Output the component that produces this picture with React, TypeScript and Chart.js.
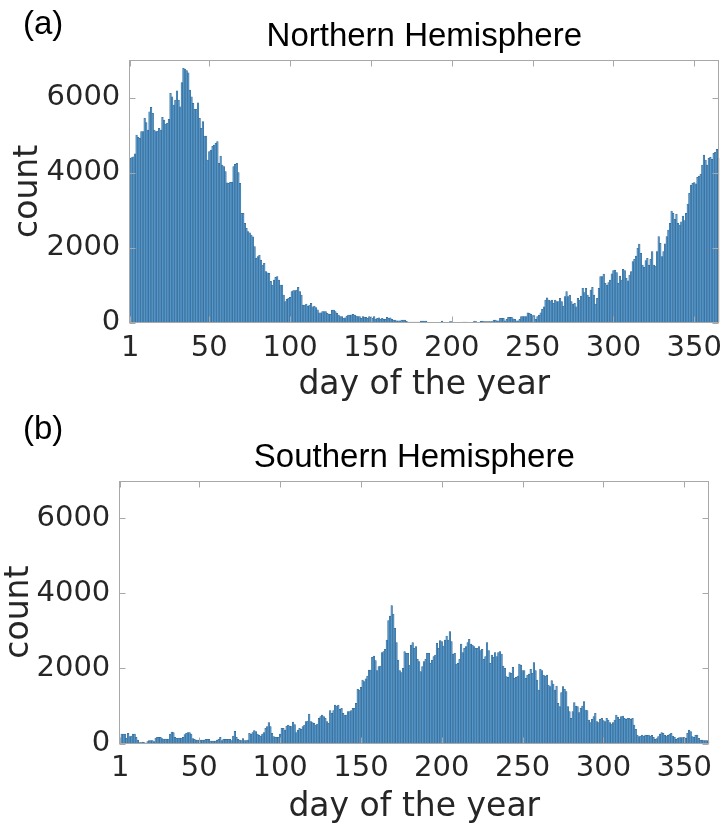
import React, { useEffect, useRef } from "react";
import { Chart, registerables } from "chart.js";

Chart.register(...registerables);

// ---------- data ----------
const DAYS: number[] = Array.from({ length: 365 }, (_, i) => i + 1);
const X_TICKS = [1, 50, 100, 150, 200, 250, 300, 350];
const Y_TICKS = [0, 2000, 4000, 6000];

const NORTH = [
  4380, 4400, 4420, 4500, 5000, 4940, 4910, 5090, 5090, 5445,
  5330, 5130, 5620, 5740, 5580, 5135, 5090, 5100, 5180, 5135,
  5470, 5400, 5290, 5310, 5420, 6110, 6020, 5800, 5930, 6180,
  5930, 5755, 6400, 6777, 6760, 6715, 6660, 6200, 6020, 5845,
  5685, 5685, 5860, 5445, 5180, 5356, 4975, 4975, 4335, 4557,
  4600, 4700, 4735, 4780, 4825, 4246, 4440, 4200, 4157, 4024,
  3730, 3713, 3740, 3740, 4157, 4220, 4246, 4000, 3713, 2914,
  2914, 2647, 2514, 2425, 2398, 2336, 2290, 2025, 1714, 1760,
  1800, 1670, 1537, 1580, 1360, 1332, 1315, 1100, 1004, 1137,
  1208, 1226, 1137, 1004, 1004, 737, 560, 622, 648, 675,
  826, 853, 853, 870, 940, 826, 737, 470, 470, 497,
  444, 470, 515, 426, 444, 400, 340, 266, 266, 293,
  293, 293, 249, 231, 222, 337, 337, 293, 249, 204,
  160, 160, 115, 133, 178, 204, 204, 213, 222, 204,
  178, 160, 160, 115, 160, 150, 142, 115, 160, 142,
  115, 160, 98, 115, 133, 89, 115, 89, 89, 142,
  115, 133, 89, 71, 71, 53, 53, 53, 71, 71,
  71, 36, 18, 18, 18, 18, 18, 18, 18, 18,
  44, 44, 44, 44, 18, 10, 10, 10, 10, 10,
  10, 10, 10, 44, 10, 10, 10, 10, 27, 27,
  5, 5, 0, 5, 0, 10, 18, 18, 18, 10,
  10, 10, 10, 44, 27, 10, 10, 36, 44, 27,
  27, 27, 27, 27, 27, 71, 71, 53, 53, 115,
  115, 115, 53, 89, 142, 142, 142, 106, 89, 53,
  53, 89, 160, 160, 160, 160, 266, 249, 222, 187,
  187, 89, 160, 204, 266, 355, 426, 604, 666, 604,
  586, 604, 515, 604, 560, 560, 648, 560, 444, 693,
  826, 693, 737, 560, 497, 515, 426, 648, 604, 710,
  915, 800, 915, 737, 675, 870, 940, 737, 497, 648,
  915, 1226, 1226, 1297, 1048, 1004, 1066, 1137, 1300, 1386,
  1404, 1333, 1048, 1244, 1137, 1421, 1386, 1181, 1119, 1270,
  1359, 1626, 1688, 1777, 1981, 2096, 1848, 1537, 1475, 1652,
  1714, 1537, 1688, 1892, 1537, 1510, 1892, 2292, 2114, 1759,
  1892, 2100, 2292, 2470, 2647, 2976, 2914, 2754, 2896, 2647,
  2603, 2690, 2843, 2718, 2914, 3162, 3447, 3669, 3713, 3731,
  3700, 3873, 3908, 3962, 4202, 4468, 4335, 4202, 4379, 4406,
  4350, 4513, 4539, 4619, 4379,
];

const SOUTH = [
  93, 253, 253, 253, 138, 271, 182, 200, 253, 253,
  164, 93, 22, 22, 40, 22, 4, 49, 75, 75,
  75, 49, 147, 164, 164, 164, 129, 120, 120, 120,
  120, 253, 306, 289, 164, 138, 147, 147, 147, 164,
  235, 271, 289, 289, 253, 129, 111, 93, 93, 93,
  93, 93, 93, 111, 111, 111, 67, 67, 67, 67,
  93, 111, 164, 75, 111, 111, 111, 111, 111, 75,
  200, 324, 164, 111, 93, 75, 129, 75, 75, 93,
  271, 253, 289, 342, 320, 253, 220, 200, 253, 289,
  404, 448, 555, 448, 271, 182, 164, 164, 164, 253,
  404, 404, 360, 466, 493, 466, 448, 573, 502, 289,
  360, 404, 377, 448, 493, 582, 600, 786, 582, 560,
  537, 493, 520, 670, 715, 759, 715, 670, 582, 537,
  875, 804, 875, 1026, 999, 1026, 910, 937, 804, 759,
  759, 848, 848, 875, 937, 937, 1070, 1443, 1425, 1496,
  1692, 1647, 1720, 1798, 1958, 1958, 2295, 2331, 2207, 1940,
  2047, 2065, 2420, 2446, 2509, 2757, 3272, 3396, 3672, 3450,
  3068, 2686, 2224, 1940, 1887, 2002, 2446, 2402, 2402, 2091,
  2624, 2686, 2535, 2580, 2242, 2180, 1914, 2050, 2180, 2242,
  2402, 2402, 2136, 2224, 2313, 2358, 2668, 2535, 2739, 2713,
  2597, 2757, 2864, 2757, 2979, 2713, 2384, 2402, 2118, 2136,
  2242, 2651, 2420, 2535, 2580, 2686, 2775, 2651, 2624, 2580,
  2535, 2535, 2580, 2473, 2509, 2242, 2313, 2686, 2473, 2136,
  2358, 2295, 2420, 2313, 2420, 2446, 2384, 2065, 2002, 1780,
  1763, 1887, 1870, 2029, 1736, 1763, 1798, 2118, 2091, 1940,
  1940, 1736, 1825, 1850, 1976, 1870, 2153, 1940, 1692, 1425,
  1976, 1940, 1825, 1798, 1825, 1558, 1514, 1674, 1585, 1425,
  1532, 1070, 981, 1354, 1514, 1443, 1381, 981, 848, 670,
  848, 1088, 1000, 981, 821, 937, 999, 1114, 893, 875,
  626, 555, 644, 715, 804, 582, 555, 644, 670, 608,
  582, 670, 626, 555, 520, 555, 626, 759, 697, 644,
  715, 733, 670, 644, 670, 670, 644, 670, 493, 377,
  226, 182, 200, 226, 200, 226, 217, 226, 200, 217,
  164, 111, 129, 182, 253, 289, 271, 217, 200, 217,
  253, 271, 200, 164, 111, 138, 155, 155, 155, 164,
  138, 271, 360, 315, 182, 164, 217, 226, 138, 93,
  93, 75, 75, 75, 49,
];

// ---------- layout ----------
type PanelCfg = {
  values: number[];
  title: string;
  tag: string;
  offset: number;
  canvasH: number;
  left: number;
  right: number;
  top: number;
  bottom: number;
  titleY: number;
  tagY: number;
  xTitlePad: number;
  yTitlePad: number;
};

const W = 726;
const TICK_COLOR = "#262626";
const BOX_COLOR = "#a8a8a8";
const TICK_FONT = 29;
const LABEL_FONT = 33;
const TITLE_FONT = 33;

const panelPlugin = {
  id: "panel",
  afterDraw(chart: any, _args: any, opts: any) {
    const { ctx, chartArea: a, scales } = chart;
    ctx.save();
    ctx.strokeStyle = BOX_COLOR;
    ctx.lineWidth = 1;
    const L = Math.round(a.left) + 0.5;
    const R = Math.round(a.right) - 0.5;
    const T = Math.round(a.top) + 0.5;
    const B = Math.round(a.bottom) - 0.5;
    ctx.strokeRect(L, T, R - L, B - T);
    const tl = 6;
    ctx.beginPath();
    for (const v of X_TICKS) {
      const x = Math.round(scales.x.getPixelForValue(v)) + 0.5;
      ctx.moveTo(x, B);
      ctx.lineTo(x, B - tl);
      ctx.moveTo(x, T);
      ctx.lineTo(x, T + tl);
    }
    for (const v of Y_TICKS) {
      const y = Math.round(scales.y.getPixelForValue(v)) + 0.5;
      ctx.moveTo(L, y);
      ctx.lineTo(L + tl, y);
      ctx.moveTo(R, y);
      ctx.lineTo(R - tl, y);
    }
    ctx.stroke();

    ctx.fillStyle = "#000";
    ctx.textBaseline = "alphabetic";
    ctx.textAlign = "center";
    ctx.font = `${TITLE_FONT}px "Liberation Sans"`;
    ctx.fillText(opts.title, (a.left + a.right) / 2, opts.titleY);
    ctx.textAlign = "left";
    ctx.font = `${TITLE_FONT}px "Liberation Sans"`;
    ctx.fillText(opts.tag, 23, opts.tagY);
    ctx.restore();
  },
};

function makeConfig(cfg: PanelCfg): any {
  return {
    type: "bar",
    data: {
      datasets: [
        {
          data: cfg.values.map((v, i) => ({ x: DAYS[i], y: v })),
          backgroundColor: "#5597ca",
          borderColor: "#2e5f88",
          borderWidth: 0.5,
          barPercentage: 1,
          categoryPercentage: 1,
        },
      ],
    },
    options: {
      responsive: false,
      animation: false,
      events: [],
      layout: { padding: { left: 0, top: cfg.top, right: W - cfg.right, bottom: 0 } },
      plugins: {
        legend: { display: false },
        tooltip: { enabled: false },
        title: { display: false },
        panel: { title: cfg.title, tag: cfg.tag, titleY: cfg.titleY, tagY: cfg.tagY },
      },
      scales: {
        x: {
          type: "linear",
          min: 0.5,
          max: 365.5,
          offset: false,
          grid: { display: false, drawTicks: false },
          border: { display: false },
          afterBuildTicks: (s: any) => {
            s.ticks = X_TICKS.map((v) => ({ value: v }));
          },
          afterFit: (s: any) => {
            s.height = cfg.canvasH - cfg.bottom;
            s.paddingLeft = 0;
            s.paddingRight = 0;
          },
          ticks: {
            autoSkip: false,
            maxRotation: 0,
            padding: 8,
            color: TICK_COLOR,
            font: { family: "DejaVu Sans", size: TICK_FONT },
            callback: (v: any) => String(v),
          },
          title: {
            display: true,
            text: "day of the year",
            color: TICK_COLOR,
            font: { family: "DejaVu Sans", size: LABEL_FONT, lineHeight: 1 },
            padding: { top: 0, bottom: cfg.xTitlePad },
          },
        },
        y: {
          min: 0,
          max: 7000,
          grid: { display: false, drawTicks: false },
          border: { display: false },
          afterBuildTicks: (s: any) => {
            s.ticks = Y_TICKS.map((v) => ({ value: v }));
          },
          afterFit: (s: any) => {
            s.width = cfg.left;
            s.paddingTop = 0;
            s.paddingBottom = 0;
          },
          ticks: {
            padding: 9,
            color: TICK_COLOR,
            font: { family: "DejaVu Sans", size: TICK_FONT },
            callback: (v: any) => String(v),
          },
          title: {
            display: true,
            text: "count",
            color: TICK_COLOR,
            font: { family: "DejaVu Sans", size: LABEL_FONT, lineHeight: 1 },
            padding: { top: cfg.yTitlePad, bottom: 0 },
          },
        },
      },
    },
    plugins: [panelPlugin],
  };
}

const PANELS: PanelCfg[] = [
  {
    values: NORTH,
    title: "Northern Hemisphere",
    tag: "(a)",
    offset: 0,
    canvasH: 412,
    left: 129.3,
    right: 719.3,
    top: 60,
    bottom: 322.7,
    titleY: 46,
    tagY: 34,
    xTitlePad: 10,
    yTitlePad: 12,
  },
  {
    values: SOUTH,
    title: "Southern Hemisphere",
    tag: "(b)",
    offset: 412,
    canvasH: 413,
    left: 119.3,
    right: 709.3,
    top: 68.7,
    bottom: 331.5,
    titleY: 54.5,
    tagY: 27,
    xTitlePad: 1.5,
    yTitlePad: 3,
  },
];

function Panel({ cfg }: { cfg: PanelCfg }) {
  const ref = useRef<HTMLCanvasElement>(null);
  useEffect(() => {
    if (!ref.current) return;
    const chart = new Chart(ref.current, makeConfig(cfg));
    return () => chart.destroy();
  }, [cfg]);
  return (
    <canvas
      ref={ref}
      width={W}
      height={cfg.canvasH}
      style={{ position: "absolute", left: 0, top: cfg.offset, display: "block" }}
    />
  );
}

export default function App() {
  return (
    <div
      style={{
        position: "absolute",
        left: 0,
        top: 0,
        width: W,
        height: 825,
        background: "#fff",
        overflow: "hidden",
      }}
    >
      {PANELS.map((p) => (
        <Panel key={p.tag} cfg={p} />
      ))}
    </div>
  );
}
